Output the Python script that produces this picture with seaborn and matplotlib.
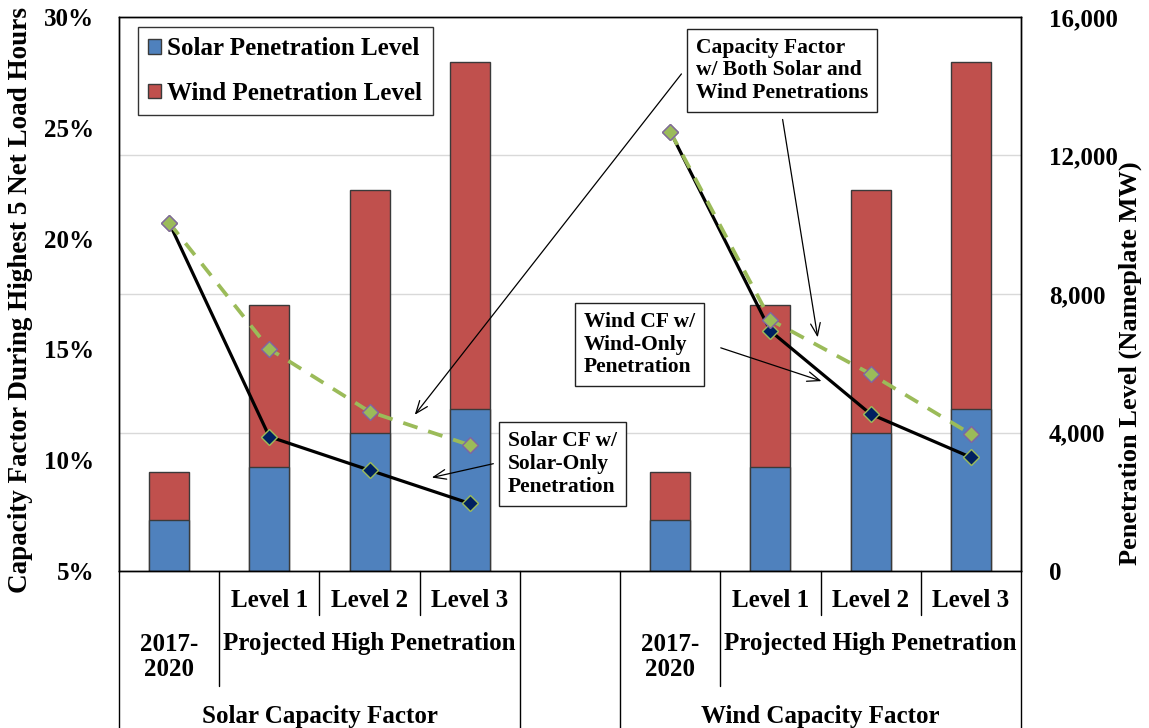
import matplotlib
matplotlib.use("Agg")
from matplotlib import pyplot as plt
from matplotlib.patches import Patch
import matplotlib.transforms as mtransforms
import pandas as pd
import seaborn as sns

# data
groups = ["Solar", "Wind"]
periods = ["2017-2020", "Level 1", "Level 2", "Level 3"]
solar_mw = [1470, 2990, 4000, 4680]          # Solar Penetration Level (MW)
wind_mw = [1400, 4700, 7000, 10020]          # Wind Penetration Level (MW)
solar_only_cf = [20.72, 11.06, 9.55, 8.05]   # Solar CF w/ Solar-Only Penetration (%)
solar_both_cf = [20.72, 15.02, 12.19, 10.68]  # Solar CF w/ both penetrations (%)
wind_only_cf = [24.83, 15.83, 12.08, 10.13]  # Wind CF w/ Wind-Only Penetration (%)
wind_both_cf = [24.83, 16.33, 13.89, 11.18]  # Wind CF w/ both penetrations (%)

level_labels = ["Level 1", "Level 2", "Level 3"]
period_labels = ["2017-\n2020", "Projected High Penetration"]
group_labels = ["Solar Capacity Factor", "Wind Capacity Factor"]
cf_ticks = [5, 10, 15, 20, 25, 30]
mw_ticks = [0, 4000, 8000, 12000, 16000]

BLUE = "#4F81BD"
RED = "#C0504D"
GREEN = "#9BBB59"
PURPLE = "#8064A2"
NAVY = "#002060"

# slot order: four solar slots, an empty gap, four wind slots
order = [f"Solar {p}" for p in periods] + ["gap"] + [f"Wind {p}" for p in periods]
bars = pd.DataFrame({
    "slot": [f"{g} {p}" for g in groups for p in periods],
    "solar": solar_mw * 2,
    "wind": wind_mw * 2,
})
bars["total"] = bars["solar"] + bars["wind"]

sns.set_style("white")
plt.rcParams["font.family"] = ["Liberation Serif", "DejaVu Serif"]
plt.rcParams["font.weight"] = "bold"
plt.rcParams["axes.labelweight"] = "bold"
plt.rcParams["text.color"] = "black"
plt.rcParams["axes.labelcolor"] = "black"
plt.rcParams["xtick.color"] = "black"
plt.rcParams["ytick.color"] = "black"

fig = plt.figure(figsize=(11.49, 7.28), dpi=100)
ax = fig.add_axes([119 / 1149, 1 - 571 / 728, 902 / 1149, 554 / 728])
ax2 = ax.twinx()

# stacked bars on the right (MW) axis
sns.barplot(data=bars, x="slot", y="total", order=order, color=RED, width=0.4,
            edgecolor="#3a3a3a", linewidth=1, saturation=1, ax=ax2)
sns.barplot(data=bars, x="slot", y="solar", order=order, color=BLUE, width=0.4,
            edgecolor="#3a3a3a", linewidth=1, saturation=1, ax=ax2)
ax2.set_ylim(0, 16000)
ax2.set_yticks(mw_ticks)
ax2.set_yticklabels([f"{v:,.0f}" for v in mw_ticks], fontsize=18, fontweight="bold")
ax2.yaxis.grid(True, color="#d9d9d9", linewidth=1)
ax2.set_axisbelow(True)
ax2.set_xlabel("")
ax2.set_ylabel("Penetration Level (Nameplate MW)", fontsize=19, fontweight="bold")
ax2.yaxis.set_label_coords(1.108, 0.375)
ax2.tick_params(axis="y", length=0, pad=20)

# capacity factor lines on the left (%) axis, drawn above the bars
ax.set_zorder(ax2.get_zorder() + 1)
ax.patch.set_visible(False)
xpos = {s: i for i, s in enumerate(order)}
for g, only, both in [("Solar", solar_only_cf, solar_both_cf), ("Wind", wind_only_cf, wind_both_cf)]:
    xs = [xpos[f"{g} {p}"] for p in periods]
    ax.plot(xs, only, color="black", linewidth=2.3, marker="D", markersize=8,
            markerfacecolor=NAVY, markeredgecolor=GREEN, markeredgewidth=1)
    ax.plot(xs, both, color=GREEN, linewidth=2.7, linestyle=(0, (4, 3)), marker="D",
            markersize=8, markerfacecolor=GREEN, markeredgecolor=PURPLE, markeredgewidth=1)

ax.set_xlim(-0.5, len(order) - 0.5)
ax.set_ylim(5, 30)
ax.set_yticks(cf_ticks)
ax.set_yticklabels([f"{v}%" for v in cf_ticks], fontsize=18, fontweight="bold")
ax.tick_params(axis="y", length=0, pad=18)
ax.set_ylabel("Capacity Factor During Highest 5 Net Load Hours", fontsize=19.5, fontweight="bold")
ax.yaxis.set_label_coords(-0.0955, 0.49)
ax.set_xticks([])
ax2.set_xticks([])
for a in (ax, ax2):
    for sp in a.spines.values():
        sp.set_color("black")
        sp.set_linewidth(1)

# legend
handles = [Patch(facecolor=BLUE, edgecolor="#3a3a3a", label="Solar Penetration Level"),
           Patch(facecolor=RED, edgecolor="#3a3a3a", label="Wind Penetration Level")]
leg = ax.legend(handles=handles, loc="upper left", bbox_to_anchor=(0.021, 0.982),
                borderaxespad=0, fancybox=False, frameon=True, edgecolor="black",
                prop={"size": 18, "weight": "bold"}, handlelength=0.5, handleheight=0.5,
                handletextpad=0.25, labelspacing=0.85, borderpad=0.42)
leg.get_frame().set_linewidth(1)

# callouts
box = dict(boxstyle="square,pad=0.42", facecolor="white", edgecolor="#222222", linewidth=1)
note_kw = dict(fontsize=15.5, fontweight="bold", ha="left", va="top", bbox=box, linespacing=1.18)
ax.text(5.258, 29.07, "Capacity Factor\nw/ Both Solar and\nWind Penetrations", **note_kw)
ax.text(4.141, 16.69, "Wind CF w/\nWind-Only\nPenetration", **note_kw)
ax.text(3.382, 11.31, "Solar CF w/\nSolar-Only\nPenetration", **note_kw)
arrow = dict(arrowstyle="->,head_length=0.9,head_width=0.35", color="black", linewidth=0.9)
for start, tip in [((5.129, 27.53), (2.434, 11.95)),
                   ((6.117, 25.50), (6.476, 15.42)),
                   ((5.478, 15.11), (6.536, 13.53)),
                   ((3.262, 9.87), (2.594, 9.19))]:
    ax.annotate("", xy=tip, xytext=start, arrowprops=arrow)

# category table under the axis
trans = mtransforms.blended_transform_factory(ax.transData, ax.transAxes)
txt_kw = dict(transform=trans, fontsize=18, fontweight="bold", ha="center", va="center", clip_on=False)
line_kw = dict(transform=trans, color="black", linewidth=1, clip_on=False)
for g, glabel in zip(groups, group_labels):
    start = xpos[f"{g} {periods[0]}"]
    for k, lab in enumerate(level_labels, start=1):
        ax.text(start + k, -0.054, lab, **txt_kw)
    ax.text(start, -0.155, period_labels[0], linespacing=1.1, **txt_kw)
    ax.text(start + 2, -0.13, period_labels[1], **txt_kw)
    ax.text(start + 1.5, -0.262, glabel, **txt_kw)
    ax.plot([start - 0.5] * 2, [0, -0.32], **line_kw)
    ax.plot([start + 3.5] * 2, [0, -0.32], **line_kw)
    ax.plot([start + 0.5] * 2, [0, -0.2076], **line_kw)
    for k in (1.5, 2.5):
        ax.plot([start + k] * 2, [0, -0.079], **line_kw)

fig.savefig("out.png", dpi=100)
